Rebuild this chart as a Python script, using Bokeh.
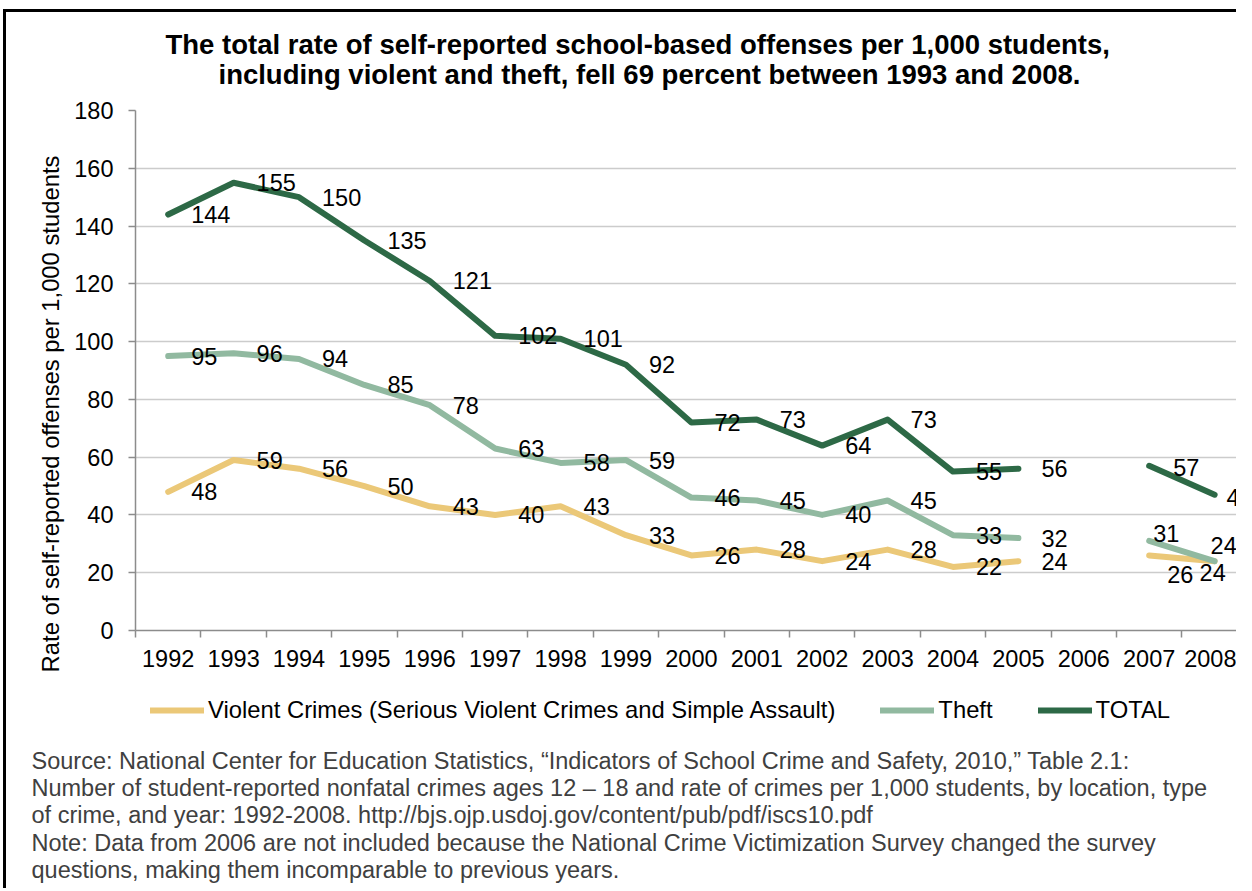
import math
import numpy as np
from bokeh.plotting import figure
from bokeh.layouts import column, row
from bokeh.models import (ColumnDataSource, FixedTicker, Range1d, Legend,
                          LegendItem, Label)
from bokeh.embed import file_html
from bokeh.resources import INLINE
from bokeh.core.properties import value

# ---------------- data ----------------
years = ["1992", "1993", "1994", "1995", "1996", "1997", "1998", "1999", "2000",
         "2001", "2002", "2003", "2004", "2005", "2006", "2007", "2008"]
violent = [48, 59, 56, 50, 43, 40, 43, 33, 26, 28, 24, 28, 22, 24, None, 26, 24]
theft = [95, 96, 94, 85, 78, 63, 58, 59, 46, 45, 40, 45, 33, 32, None, 31, 24]
total = [144, 155, 150, 135, 121, 102, 101, 92, 72, 73, 64, 73, 55, 56, None, 57, 47]
y_ticks = [0, 20, 40, 60, 80, 100, 120, 140, 160, 180]
series_names = ["Violent Crimes (Serious Violent Crimes and Simple Assault)", "Theft", "TOTAL"]
title_lines = ["The total rate of self-reported school-based offenses per 1,000 students,",
               "including violent and theft, fell 69 percent between 1993 and 2008."]
y_label = "Rate of self-reported offenses per 1,000 students"
note_lines = [
    "Source: National Center for Education Statistics, \u201cIndicators of School Crime and Safety, 2010,\u201d Table 2.1:",
    "Number of student-reported nonfatal crimes ages 12 \u2013 18 and rate of crimes per 1,000 students, by location, type",
    "of crime, and year: 1992-2008. http://bjs.ojp.usdoj.gov/content/pub/pdf/iscs10.pdf",
    "Note: Data from 2006 are not included because the National Crime Victimization Survey changed the survey",
    "questions, making them incomparable to previous years.",
]

# ---------------- style ----------------
colors = ["#EBC878", "#91B9A0", "#2D6946"]
FONT = "Liberation Sans"
FS = "23.5px"
LW = 6
# label nudges (screen px) where the default (right of point) is not used
nudges = {
    (0, "2007"): (18, 19), (1, "2007"): (4, -7), (2, "2007"): (24, 2),
    (0, "2008"): (-15, 11), (1, "2008"): (-4, -16), (2, "2008"): (12, 3),
}

# page geometry: canvas origin sits at page x=6, y=12 because of the border
OX, OY = 6, 12
W = 1230
X_P = 70                                   # page column where the chart canvas starts
Y_T, Y_P, Y_Q, Y_END = OY, 95, 690, 888   # page rows where the parts start/end


def bare(w, h):
    f = figure(width=w, height=h, output_backend="svg", toolbar_location=None,
               x_range=Range1d(0, w), y_range=Range1d(0, h),
               x_axis_type=None, y_axis_type=None,
               min_border_left=0, min_border_right=0, min_border_top=0, min_border_bottom=0)
    f.outline_line_color = None
    f.grid.visible = False
    f.background_fill_color = "white"
    f.border_fill_color = "white"
    return f


# ---------- title part ----------
HT = Y_P - Y_T
t = bare(W, HT)
for line, lx0, cy in zip(title_lines, [165, 218], [44, 73.5]):
    t.add_layout(Label(x=lx0 - OX, y=HT - (cy - Y_T), x_units="screen", y_units="screen",
                       text=line, text_align="left", text_baseline="middle",
                       text_font=FONT, text_font_size="27.5px", text_font_style="bold",
                       text_color="black"))

# ---------- y axis title part ----------
H1 = Y_Q - Y_P
WL = X_P - OX
yl = bare(WL, H1)
yl.add_layout(Label(x=50 - OX, y=H1 - (413.5 - Y_P), x_units="screen", y_units="screen",
                    text=y_label, angle=math.pi / 2, text_align="center",
                    text_baseline="middle", text_font=FONT, text_font_size="23.8px",
                    text_color="black"))

# ---------- chart part ----------
WP = W - WL
FRAME_LEFT = 135 - X_P
FRAME_TOP = 110 - Y_P
FRAME_BOTTOM = 630 - Y_P
cat_px = 65.4
x_end = (WP - FRAME_LEFT) / cat_px

p = figure(width=WP, height=H1, output_backend="svg", toolbar_location=None,
           x_range=Range1d(0, x_end), y_range=Range1d(0, 180),
           min_border_left=FRAME_LEFT, min_border_right=0,
           min_border_top=FRAME_TOP, min_border_bottom=H1 - FRAME_BOTTOM)
try:
    p.title = None
except Exception:
    pass
p.outline_line_color = None
p.background_fill_color = "white"
p.border_fill_color = "white"

centers = [i + 0.5 for i in range(len(years))]
bounds = [float(i) for i in range(len(years) + 1)]

# x axis: labels at category centres, ticks between categories
xa = p.xaxis[0]
xa.ticker = FixedTicker(ticks=centers, minor_ticks=bounds)
xa.major_label_overrides = {c: y for c, y in zip(centers, years)}
xa.major_tick_out = 0
xa.major_tick_in = 0
xa.minor_tick_out = 7
xa.minor_tick_in = 0
xa.minor_tick_line_color = "#8C8C8C"
xa.minor_tick_line_width = 1.5
xa.axis_line_color = "#8C8C8C"
xa.axis_line_width = 1.5
xa.major_label_text_font = FONT
xa.major_label_text_font_size = FS
xa.major_label_text_color = "black"
xa.major_label_standoff = 12

# y axis
ya = p.yaxis[0]
ya.ticker = FixedTicker(ticks=y_ticks)
ya.major_tick_out = 7
ya.major_tick_in = 0
ya.minor_tick_out = 0
ya.minor_tick_in = 0
ya.major_tick_line_color = "#8C8C8C"
ya.major_tick_line_width = 1.5
ya.axis_line_color = "#8C8C8C"
ya.axis_line_width = 1.5
ya.major_label_text_font = FONT
ya.major_label_text_font_size = FS
ya.major_label_text_color = "black"
ya.major_label_standoff = 15

p.xgrid.grid_line_color = None
p.ygrid.ticker = FixedTicker(ticks=y_ticks[1:])
p.ygrid.grid_line_color = "#CCCCCC"
p.ygrid.grid_line_width = 1.5

# lines
for k, vals in enumerate([violent, theft, total]):
    ys = [np.nan if v is None else float(v) for v in vals]
    p.line(centers, ys, line_color=colors[k], line_width=LW,
           line_cap="round", line_join="round")

# data labels
lx, ly, lt, dx, dy = [], [], [], [], []
for k, vals in enumerate([violent, theft, total]):
    for i, v in enumerate(vals):
        if v is None:
            continue
        ox, oy = nudges.get((k, years[i]), (23, 0))
        lx.append(centers[i]); ly.append(v); lt.append(str(v))
        dx.append(ox); dy.append(oy)
src = ColumnDataSource(dict(x=lx, y=ly, t=lt, dx=dx, dy=dy))
p.text(x="x", y="y", text="t", x_offset="dx", y_offset="dy", source=src,
       text_align="left", text_baseline="middle", text_font=value(FONT),
       text_font_size=FS, text_color="black")

# ---------- lower part: legend and notes ----------
H2 = Y_END - Y_Q
q = bare(W, H2)
legend_renderers = [q.line(x=[np.nan], y=[np.nan], line_color=c, line_width=LW, line_cap="round")
                    for c in colors]
legend = Legend(items=[LegendItem(label=n, renderers=[r])
                       for n, r in zip(series_names, legend_renderers)],
                orientation="horizontal", location=(150 - OX, H2 - (711 - Y_Q) - 13),
                glyph_width=54, glyph_height=20, label_standoff=4, spacing=45,
                padding=0, margin=0, border_line_color=None, background_fill_alpha=0,
                label_text_font=FONT, label_text_font_size="23.8px", label_text_color="black")
q.add_layout(legend)

for line, cy in zip(note_lines, [760, 787, 814, 842, 869]):
    q.add_layout(Label(x=31 - OX, y=H2 - (cy - Y_Q), x_units="screen", y_units="screen",
                       text=line, text_align="left", text_baseline="middle",
                       text_font=FONT, text_font_size=FS, text_color="#404040"))

for f in (t, yl, p, q):
    try:
        f.frame_align = False
    except Exception:
        pass

layout = column(t, row(yl, p, spacing=0), q, spacing=0,
                styles={"margin-top": "9px", "margin-left": "3px",
                        "border-top": "3px solid black", "border-left": "3px solid black"})

open("out.html", "w").write(file_html(layout, INLINE))
